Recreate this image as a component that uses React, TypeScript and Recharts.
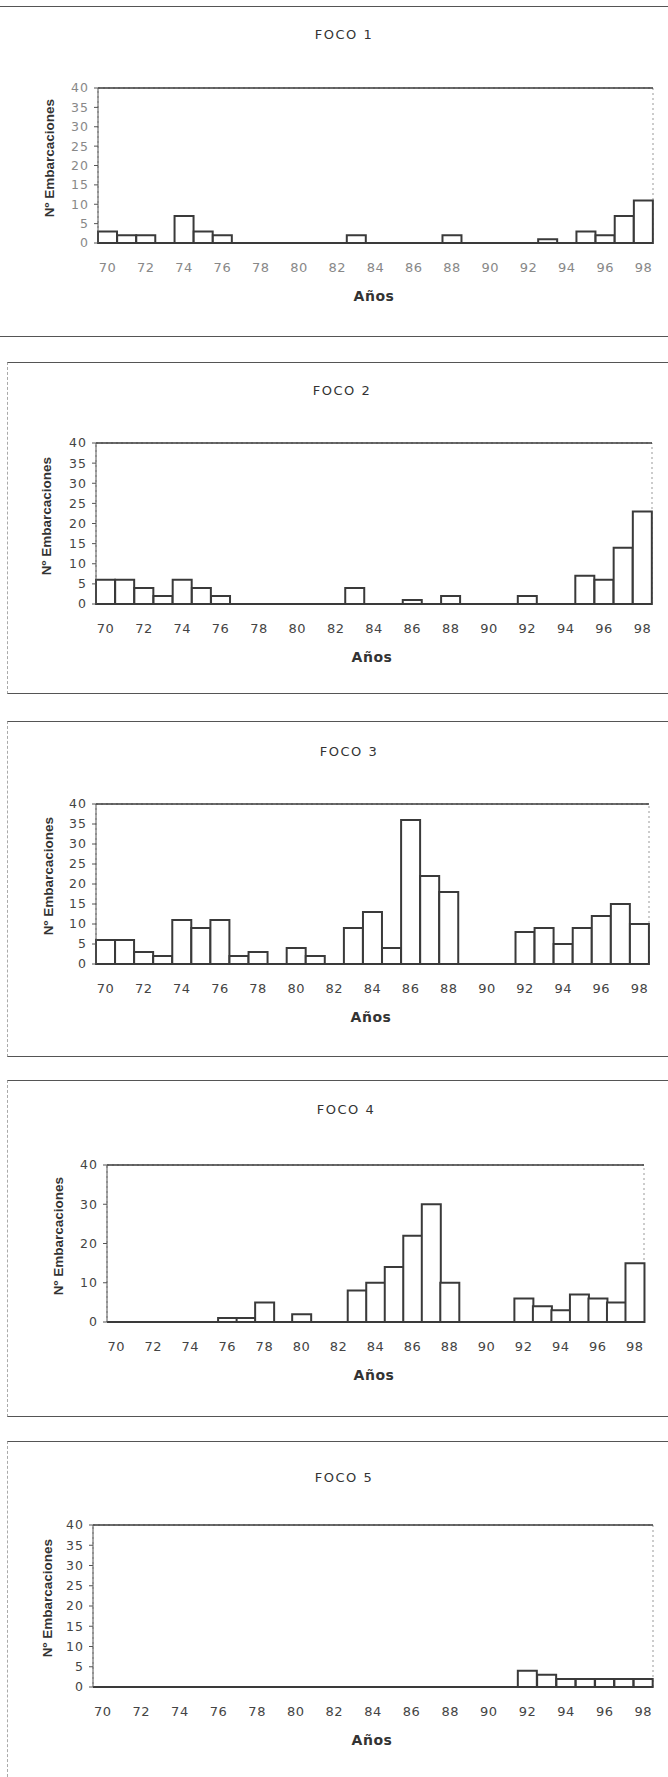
import { BarChart, Bar, XAxis, YAxis, ReferenceArea, ReferenceLine } from "recharts";

const years = [
  "70", "71", "72", "73", "74", "75", "76", "77", "78", "79",
  "80", "81", "82", "83", "84", "85", "86", "87", "88", "89",
  "90", "91", "92", "93", "94", "95", "96", "97", "98",
];

const foco1 = [3, 2, 2, 0, 7, 3, 2, 0, 0, 0, 0, 0, 0, 2, 0, 0, 0, 0, 2, 0, 0, 0, 0, 1, 0, 3, 2, 7, 11];
const foco2 = [6, 6, 4, 2, 6, 4, 2, 0, 0, 0, 0, 0, 0, 4, 0, 0, 1, 0, 2, 0, 0, 0, 2, 0, 0, 7, 6, 14, 23];
const foco3 = [6, 6, 3, 2, 11, 9, 11, 2, 3, 0, 4, 2, 0, 9, 13, 4, 36, 22, 18, 0, 0, 0, 8, 9, 5, 9, 12, 15, 10];
const foco4 = [0, 0, 0, 0, 0, 0, 1, 1, 5, 0, 2, 0, 0, 8, 10, 14, 22, 30, 10, 0, 0, 0, 6, 4, 3, 7, 6, 5, 15];
const foco5 = [0, 0, 0, 0, 0, 0, 0, 0, 0, 0, 0, 0, 0, 0, 0, 0, 0, 0, 0, 0, 0, 0, 4, 3, 2, 2, 2, 2, 2];

const ticksBy5 = [0, 5, 10, 15, 20, 25, 30, 35, 40];
const ticksBy10 = [0, 10, 20, 30, 40];

const INK = "#3a3a3a";

interface ChartProps {
  title: string;
  values: number[];
  yTicks: number[];
  left: number;
  right: number;
  top: number;
  bottom: number;
  titleY: number;
  titleX: number;
  yLabelX: number;
  xLabelX: number;
  tickColor?: string;
}

function FocoChart({
  title,
  values,
  yTicks,
  left,
  right,
  top,
  bottom,
  titleY,
  titleX,
  yLabelX,
  xLabelX,
  tickColor = "#444",
}: ChartProps) {
  const data = years.map((y, i) => ({ year: y, value: values[i] }));
  const padTop = 10;
  const axisH = 40;
  const h = bottom - top + padTop + axisH;
  const midY = (top + bottom) / 2 - 8;

  return (
    <>
      <div
        style={{
          position: "absolute",
          top: titleY - 9,
          left: titleX - 80,
          width: 160,
          textAlign: "center",
          fontFamily: "DejaVu Sans",
          fontSize: 13,
          letterSpacing: 1.5,
          color: "#333",
          lineHeight: "18px",
        }}
      >
        {title}
      </div>
      <div
        style={{
          position: "absolute",
          top: midY - 10,
          left: yLabelX - 100,
          width: 200,
          height: 20,
          lineHeight: "20px",
          textAlign: "center",
          transform: "rotate(-90deg)",
          fontFamily: "Liberation Sans",
          fontWeight: "bold",
          fontSize: 13.5,
          color: "#333",
        }}
      >
        Nº Embarcaciones
      </div>
      <div
        style={{
          position: "absolute",
          top: top - padTop,
          left: 0,
        }}
      >
        <BarChart
          width={668}
          height={h}
          data={data}
          margin={{ top: padTop, right: 668 - right, left: 0, bottom: 0 }}
          barCategoryGap={0}
        >
          <XAxis
            dataKey="year"
            interval={1}
            tickLine={false}
            tickSize={6}
            tickMargin={14}
            height={axisH}
            axisLine={{ stroke: INK, strokeWidth: 2 }}
            tick={{ fill: tickColor, fontSize: 13, fontFamily: "DejaVu Sans", letterSpacing: 0.5 }}
          />
          <YAxis
            domain={[0, 40]}
            ticks={yTicks}
            width={left}
            tickSize={4}
            tickMargin={5}
            interval={0}
            axisLine={{ stroke: "#555", strokeWidth: 1 }}
            tickLine={{ stroke: "#555" }}
            tick={{ fill: tickColor, fontSize: 12.5, fontFamily: "DejaVu Sans", letterSpacing: 1 }}
          />
          {/* plot frame: faint dotted box, solid line on top */}
          <ReferenceArea
            y1={0}
            y2={40}
            fill="none"
            stroke="#999"
            strokeDasharray="2 3"
          />
          <ReferenceLine y={40} stroke={INK} strokeWidth={1.5} />
          <Bar
            dataKey="value"
            fill="#fff"
            stroke={INK}
            strokeWidth={2}
            isAnimationActive={false}
          />
        </BarChart>
      </div>
      <div
        style={{
          position: "absolute",
          top: bottom + 44,
          left: xLabelX - 50,
          width: 100,
          textAlign: "center",
          fontFamily: "DejaVu Sans",
          fontWeight: "bold",
          fontSize: 14,
          letterSpacing: 0.5,
          color: "#333",
          lineHeight: "18px",
        }}
      >
        Años
      </div>
    </>
  );
}

function Rule({ y }: { y: number }) {
  return (
    <div
      style={{
        position: "absolute",
        top: y,
        left: 0,
        width: 668,
        borderTop: "1.5px solid #555",
      }}
    />
  );
}

function Panel({ top, bottom }: { top: number; bottom?: number }) {
  return (
    <div
      style={{
        position: "absolute",
        top,
        left: 7,
        width: 661,
        height: (bottom ?? 1777) - top,
        borderTop: "1.5px solid #555",
        borderBottom: bottom ? "1.5px solid #555" : "none",
        borderLeft: "1px dashed #aaa",
        boxSizing: "border-box",
      }}
    />
  );
}

export default function App() {
  return (
    <div
      style={{
        position: "absolute",
        left: 0,
        top: 0,
        width: 668,
        height: 1777,
        background: "#fff",
        overflow: "hidden",
      }}
    >
      <Rule y={6} />
      <Rule y={336} />
      <Panel top={362} bottom={694} />
      <Panel top={721} bottom={1057} />
      <Panel top={1080} bottom={1417} />
      <Panel top={1441} />

      <FocoChart
        title="FOCO 1"
        values={foco1}
        yTicks={ticksBy5}
        left={98}
        right={653}
        top={88}
        bottom={243}
        titleY={35}
        titleX={344}
        yLabelX={50}
        xLabelX={374}
        tickColor="#888"
      />
      <FocoChart
        title="FOCO 2"
        values={foco2}
        yTicks={ticksBy5}
        left={96}
        right={652}
        top={443}
        bottom={604}
        titleY={391}
        titleX={342}
        yLabelX={47}
        xLabelX={372}
      />
      <FocoChart
        title="FOCO 3"
        values={foco3}
        yTicks={ticksBy5}
        left={96}
        right={649}
        top={804}
        bottom={964}
        titleY={752}
        titleX={349}
        yLabelX={49}
        xLabelX={371}
      />
      <FocoChart
        title="FOCO 4"
        values={foco4}
        yTicks={ticksBy10}
        left={107}
        right={644}
        top={1165}
        bottom={1322}
        titleY={1110}
        titleX={346}
        yLabelX={59}
        xLabelX={374}
      />
      <FocoChart
        title="FOCO 5"
        values={foco5}
        yTicks={ticksBy5}
        left={93}
        right={653}
        top={1525}
        bottom={1687}
        titleY={1478}
        titleX={344}
        yLabelX={48}
        xLabelX={372}
      />
    </div>
  );
}
